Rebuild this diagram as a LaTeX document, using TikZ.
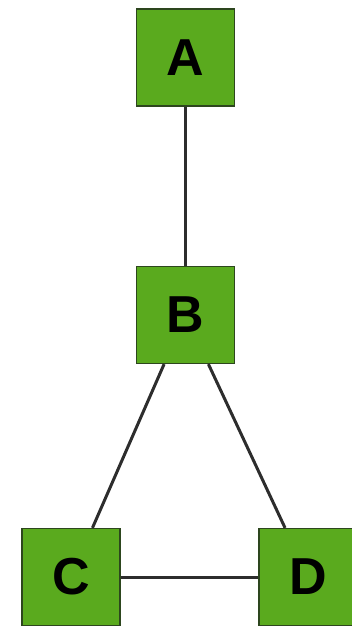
\documentclass[tikz,border=0pt]{standalone}
\usepackage{fontspec}
\setmainfont{Liberation Sans}
\definecolor{boxgreen}{RGB}{90,170,30}
\definecolor{boxedge}{RGB}{45,70,30}
\definecolor{edgegray}{RGB}{45,45,45}
\begin{document}
\begin{tikzpicture}[x=1pt,y=-1pt,
  gbox/.style={draw=boxedge,line width=1.2pt,fill=boxgreen,minimum width=98pt,minimum height=97pt,inner sep=0pt,font=\fontsize{52}{52}\selectfont\bfseries},
  conn/.style={draw=edgegray,line width=3pt}]
\useasboundingbox (0,0) rectangle (352,626);
\node[gbox] (A) at (185.5,57.5) {A};
\node[gbox] (B) at (185.5,315) {B};
\node[gbox] (C) at (71,577) {C};
\node[gbox] (D) at (308,577) {D};
\draw[conn] (A) -- (B);
\draw[conn] (B) -- (C);
\draw[conn] (B) -- (D);
\draw[conn] (C) -- (D);
\end{tikzpicture}
\end{document}
